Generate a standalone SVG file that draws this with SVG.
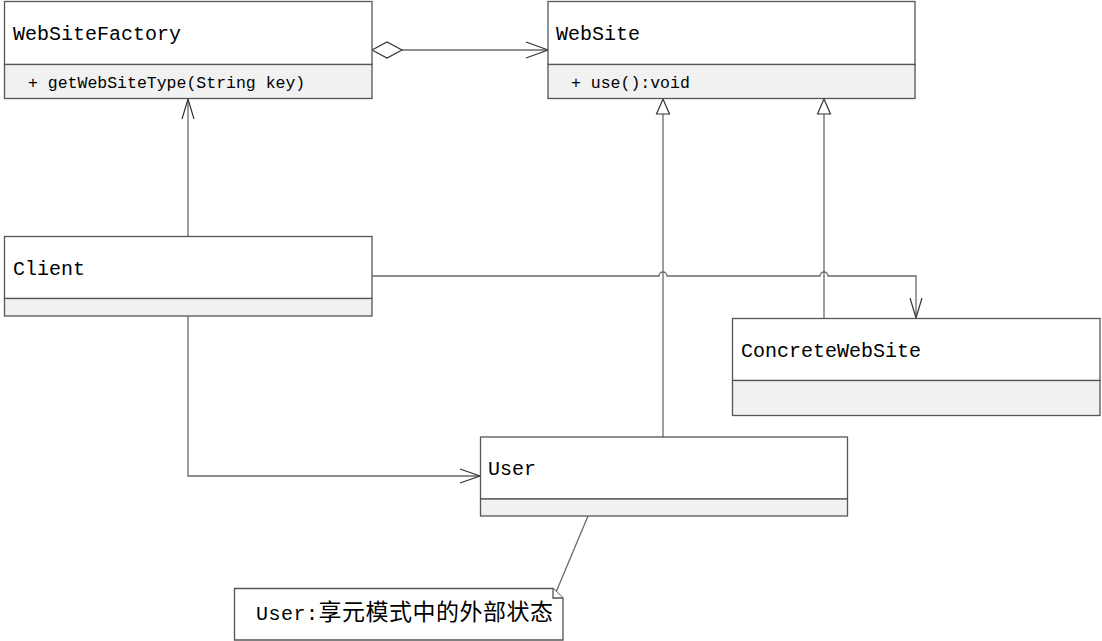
<svg xmlns="http://www.w3.org/2000/svg" width="1102" height="641" viewBox="0 0 1102 641">
<style>
.box{fill:#fff;stroke:#555;stroke-width:1.3}
.comp{fill:#f1f1f1;stroke:#555;stroke-width:1.3}
.title{font-family:"Liberation Mono","DejaVu Sans Mono",monospace;font-size:20px;fill:#000}
.member{font-family:"Liberation Mono","DejaVu Sans Mono",monospace;font-size:16.5px;fill:#000}
.line{fill:none;stroke:#6a6a6a;stroke-width:1.3}
.head{fill:none;stroke:#333;stroke-width:1.2}
.tri{fill:#fff;stroke:#333;stroke-width:1.2}
</style>
<rect width="1102" height="641" fill="#fff"/>
<g id="connectors">
  <!-- aggregation WebSiteFactory -> WebSite -->
  <line class="line" x1="402" y1="50" x2="548" y2="50"/>
  <polygon class="tri" points="372,50 387,42 402,50 387,58"/>
  <polyline class="head" points="526,42 548,50 526,58"/>
  <!-- Client -> WebSiteFactory -->
  <line class="line" x1="188" y1="236" x2="188" y2="99"/>
  <polyline class="head" points="182,119 188,99 194,119"/>
  <!-- Client -> ConcreteWebSite with hops -->
  <path class="line" d="M372,276 H659 A4,4 0 0 1 667,276 H820 A4,4 0 0 1 828,276 H916 V318"/>
  <polyline class="head" points="910,298 916,318 922,298"/>
  <!-- Client -> User -->
  <polyline class="line" points="188,316 188,476 480,476"/>
  <polyline class="head" points="460,469 480,476 460,483"/>
  <!-- User -> WebSite generalization -->
  <line class="line" x1="663" y1="437" x2="663" y2="114"/>
  <polygon class="tri" points="663,99 656.5,114 669.5,114"/>
  <!-- ConcreteWebSite -> WebSite generalization -->
  <line class="line" x1="824" y1="318" x2="824" y2="114"/>
  <polygon class="tri" points="824,99 817.5,114 830.5,114"/>
  <!-- note link -->
  <line class="line" x1="588" y1="516" x2="554" y2="597"/>
</g>
<g id="WebSiteFactory">
  <rect class="box" x="4.5" y="1.5" width="367.5" height="63"/>
  <rect class="comp" x="4.5" y="64.5" width="367.5" height="34"/>
  <text class="title" x="13" y="40">WebSiteFactory</text>
  <text class="member" x="28" y="88">+ getWebSiteType(String key)</text>
</g>
<g id="WebSite">
  <rect class="box" x="548" y="1.5" width="367" height="63"/>
  <rect class="comp" x="548" y="64.5" width="367" height="34"/>
  <text class="title" x="556" y="40">WebSite</text>
  <text class="member" x="571" y="88">+ use():void</text>
</g>
<g id="Client">
  <rect class="box" x="4.5" y="236.5" width="367.5" height="62"/>
  <rect class="comp" x="4.5" y="298.5" width="367.5" height="17.5"/>
  <text class="title" x="13" y="275">Client</text>
</g>
<g id="ConcreteWebSite">
  <rect class="box" x="732.5" y="318.5" width="367.5" height="62"/>
  <rect class="comp" x="732.5" y="380.5" width="367.5" height="35"/>
  <text class="title" x="741" y="357">ConcreteWebSite</text>
</g>
<g id="User">
  <rect class="box" x="480.5" y="437" width="367" height="62"/>
  <rect class="comp" x="480.5" y="499" width="367" height="17"/>
  <text class="title" x="488" y="475">User</text>
</g>
<g id="note">
  <path class="box" d="M234.5,588.5 H553 L563,598 V640 H234.5 Z"/>
  <path class="box" d="M553,588.5 V598 H563" fill="none"/>
  <text class="title" x="256" y="620" textLength="297" lengthAdjust="spacing">User:<tspan font-family="'Noto Sans CJK SC',sans-serif" font-size="23">享元模式中的外部状态</tspan></text>
</g>
</svg>
